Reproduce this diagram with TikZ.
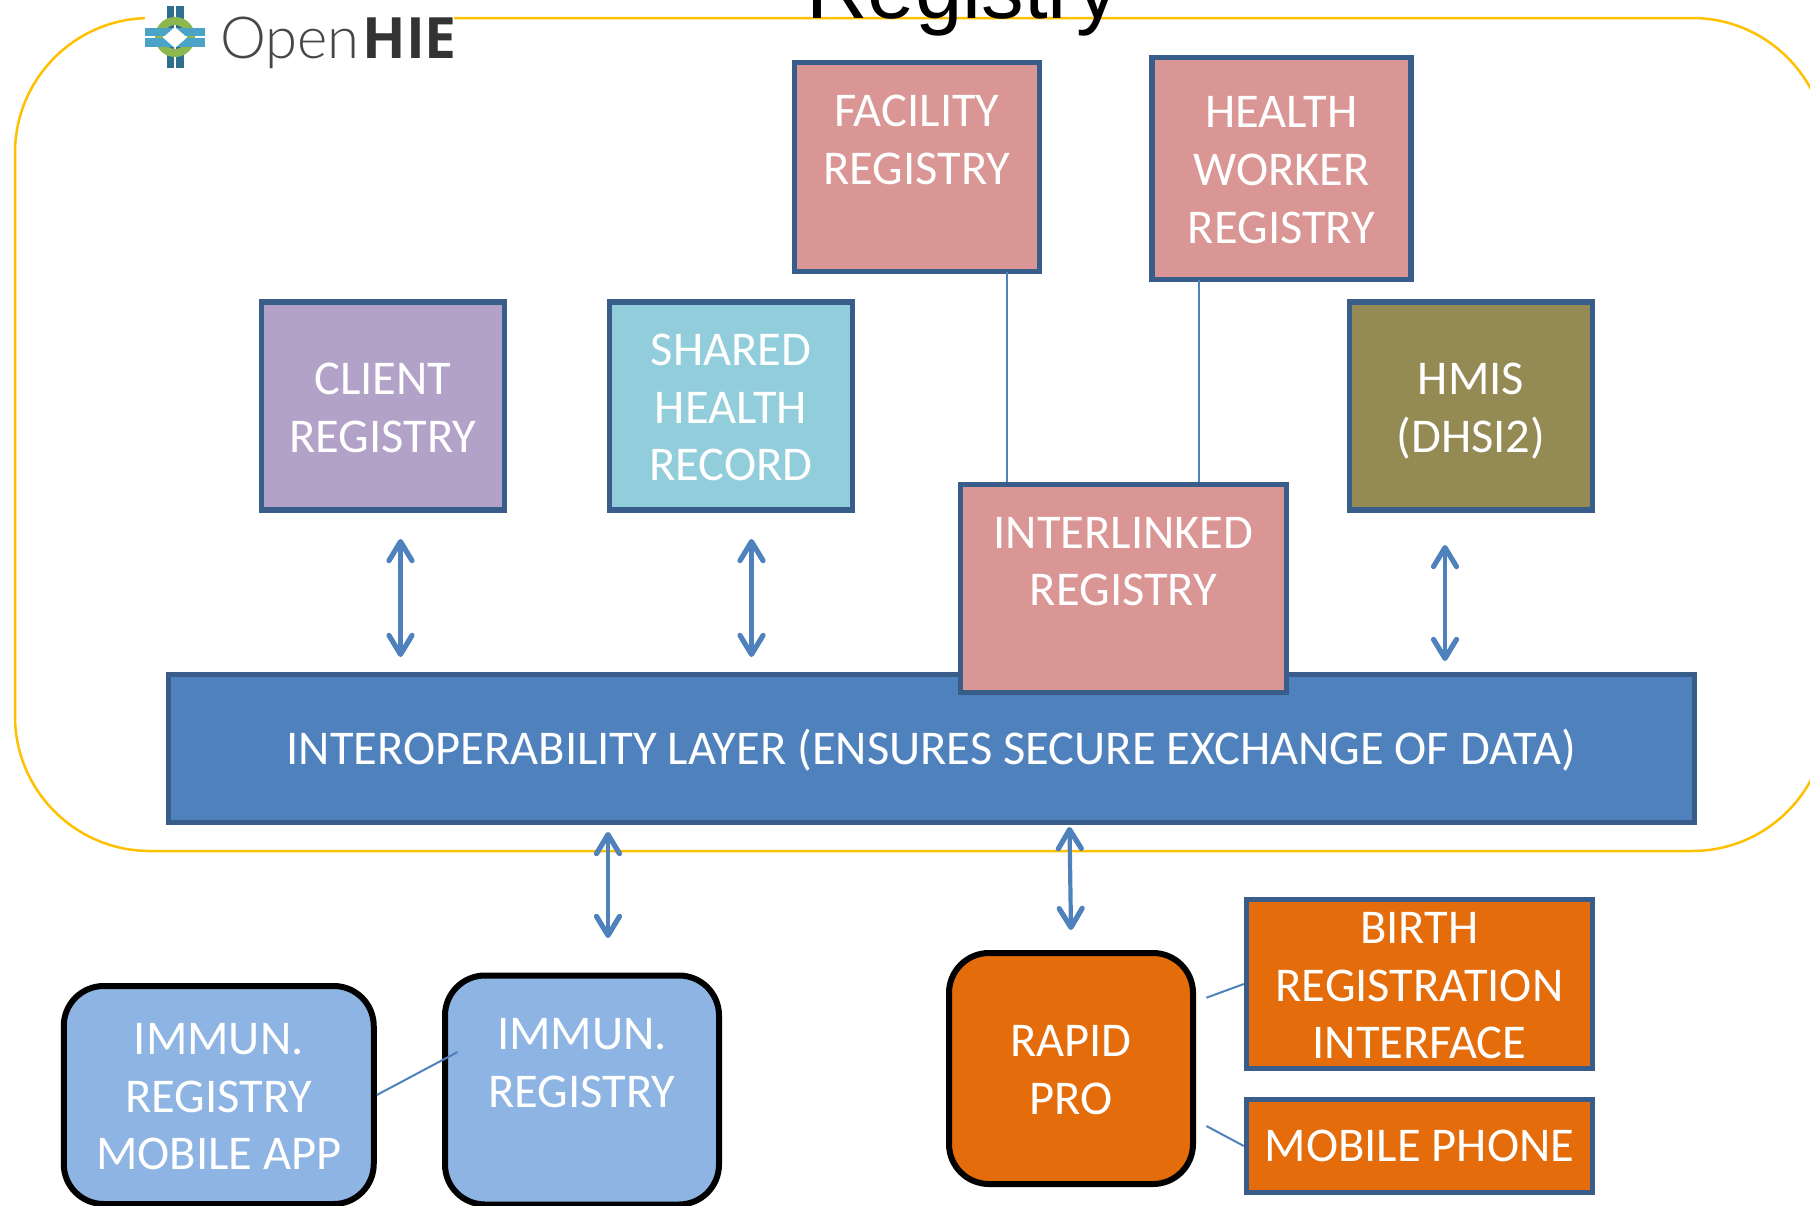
\documentclass[tikz,border=0pt]{standalone}
\usepackage{fontspec}
\setmainfont{Carlito}
\newfontfamily\titlefont{Liberation Sans}
\newfontfamily\logolight{Lato Light}
\newfontfamily\logoheavy{Open Sans}
\usetikzlibrary{arrows.meta}
\definecolor{framegold}{HTML}{FFC000}
\definecolor{linkblue}{HTML}{4F81BD}
\definecolor{edgeblue}{HTML}{385D8A}
\definecolor{regpink}{HTML}{D99694}
\definecolor{regpurple}{HTML}{B2A2C7}
\definecolor{regteal}{HTML}{92CDDC}
\definecolor{regolive}{HTML}{948A54}
\definecolor{regsky}{HTML}{8EB4E3}
\definecolor{regorange}{HTML}{E46C0A}
\definecolor{logogreen}{HTML}{8CB84F}
\definecolor{logodark}{HTML}{2E6E8E}
\definecolor{logolite}{HTML}{4BA3C7}
\tikzset{
	sized/.style 2 args={minimum width=#1*0.5pt, minimum height=#2*0.5pt},
	topgap/.style={execute at begin node={\rule{0pt}{#1pt}}},
	regbox/.style={draw=edgeblue, line width=2.7pt, text=white, inner sep=0pt, align=center,
		font=\fontsize{24.25pt}{28.85pt}\selectfont},
	threeline/.style={regbox, topgap=75},
	twoline/.style={regbox, topgap=46.2},
	roundbox/.style={draw=black, line width=3pt, rounded corners=20pt},
	link/.style={draw=linkblue, line width=1pt},
	both/.style={draw=linkblue, line width=2.1pt, line cap=round,
		{Straight Barb[length=9.5pt, width=11.5pt, round, line width=2.6pt]}-{Straight Barb[length=9.5pt, width=11.5pt, round, line width=2.6pt]}}
}
\begin{document}
\begin{tikzpicture}[x=0.5pt, y=-0.5pt]
	%%%%% START %%%%%
	\useasboundingbox (0, 0) rectangle (1810, 1205);
	
	\draw[framegold, line width=1.25pt, rounded corners=67.5pt] (15, 18) rectangle (1827, 851);
	
	\node (title) [anchor=base west, inner sep=0pt, font=\titlefont\fontsize{42.6pt}{42.6pt}\selectfont] at (806, 18) {Registry};
	
	%%%%% logo %%%%%
	\fill[white] (145, 0) rectangle (454, 72);
	\fill[logodark] (166.5, 6) rectangle (174, 68);
	\fill[logodark] (176, 6) rectangle (184, 68);
	\draw[logogreen, line width=4pt] (175, 37) circle (16);
	\fill[logolite] (145, 28) rectangle (205, 36);
	\fill[logolite] (145, 38) rectangle (205, 47);
	\fill[white] (163, 37.5) -- (175, 27) -- (187, 37.5) -- (175, 48) -- cycle;
	\node (logoopen) [anchor=base west, inner sep=0pt, text=black!72, font=\logolight\fontsize{29pt}{29pt}\selectfont] at (220, 58) {Open};
	\node (logohie) [anchor=base west, inner sep=0pt, text=black!80, font=\logoheavy\bfseries\fontsize{28.5pt}{28.5pt}\selectfont] at (362, 58) {HIE};
	
	%%%%% registries %%%%%
	\node (facility) [threeline, fill=regpink, sized={245}{209}] at (917, 167) {FACILITY\\REGISTRY\\~};
	\node (worker) [threeline, fill=regpink, sized={259}{222}] at (1281.5, 168.5) {HEALTH\\WORKER\\REGISTRY};
	\node (client) [twoline, fill=regpurple, sized={243}{208}] at (383, 406) {CLIENT\\REGISTRY};
	\node (record) [threeline, fill=regteal, sized={243}{208}] at (731, 406) {SHARED\\HEALTH\\RECORD};
	\node (hmis) [twoline, topgap=49.7, fill=regolive, sized={243}{208}] at (1471, 406) {HMIS\\(DHSI2)};
	
	\node (layer) [regbox, topgap=19.8, fill=linkblue, sized={1526}{148}] at (931.5, 748.5) {INTEROPERABILITY LAYER (ENSURES SECURE EXCHANGE OF DATA)};
	\node (linked) [threeline, fill=regpink, sized={326}{208}] at (1123.5, 588.5) {INTERLINKED\\REGISTRY\\~};
	
	\coordinate (facilityfoot) at (1006.5, 272);
	\coordinate (workerfoot) at (1199, 280);
	\draw[link] (facilityfoot) -- (facilityfoot |- linked.north);
	\draw[link] (workerfoot) -- (workerfoot |- linked.north);
	
	%%%%% arrows %%%%%
	\coordinate (clienta) at (400.5, 539);
	\coordinate (clientb) at (400.5, 657);
	\coordinate (recorda) at (751.5, 539);
	\coordinate (recordb) at (751.5, 657);
	\coordinate (hmisa) at (1445, 545);
	\coordinate (hmisb) at (1445, 661);
	\coordinate (immuna) at (608, 832);
	\coordinate (immunb) at (608, 938);
	\coordinate (rapida) at (1069.5, 827);
	\coordinate (rapidb) at (1071, 930);
	\draw[both] (clienta) -- (clientb);
	\draw[both] (recorda) -- (recordb);
	\draw[both] (hmisa) -- (hmisb);
	\draw[both] (immuna) -- (immunb);
	\draw[both] (rapida) -- (rapidb);
	
	%%%%% bottom row %%%%%
	\node (mobileapp) [threeline, roundbox, fill=regsky, sized={310}{218}] at (218.75, 1095) {IMMUN.\\REGISTRY\\MOBILE APP};
	\node (immun) [threeline, roundbox, fill=regsky, sized={274}{229}] at (582, 1090) {IMMUN.\\REGISTRY\\~};
	\coordinate (immunin) at (457.6, 1052);
	\draw[link] (mobileapp.east) -- (immunin);
	
	\node (rapid) [twoline, roundbox, fill=regorange, sized={244}{231}] at (1071, 1068.5) {RAPID\\PRO};
	\node (birth) [threeline, fill=regorange, sized={346}{169}] at (1419.5, 984) {BIRTH\\REGISTRATION\\INTERFACE};
	\node (phone) [regbox, fill=regorange, sized={346}{93}] at (1419.5, 1146) {MOBILE PHONE};
	\coordinate (rapidup) at (1206.4, 997.7);
	\coordinate (rapiddown) at (1206.4, 1126);
	\draw[link] (rapidup) -- (birth.west);
	\draw[link] (rapiddown) -- (phone.west);
	
	%%%%% END %%%%%
\end{tikzpicture}
\end{document}
